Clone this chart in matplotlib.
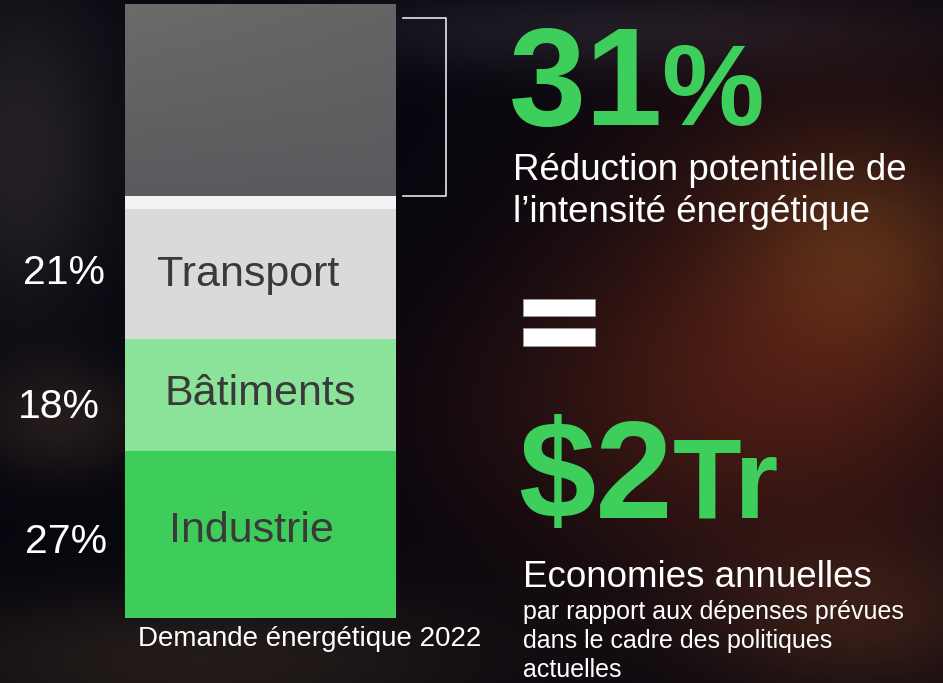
import matplotlib
matplotlib.use('Agg')
import matplotlib.pyplot as plt
from matplotlib.patches import Rectangle
import numpy as np

plt.rcParams['font.family'] = ['Liberation Sans', 'DejaVu Sans']

# stacked bar data (share of 2022 energy demand, %)
sectors = ['Industrie', 'Bâtiments', 'Transport', '', '']
shares = [27, 18, 21, 2, 31]
pct_labels = ['27%', '18%', '21%']
colors = ['#3ecd5a', '#8be39a', '#dadada', '#f2f2f2', '#5f5f62']

W, H = 943, 683
fig = plt.figure(figsize=(W / 100, H / 100), dpi=100)

# blurred dark background
yy, xx = np.mgrid[0:H, 0:W]
img = np.zeros((H, W, 3))
img[:] = np.array([6, 6, 14]) / 255.0
def blob(cx, cy, sx, sy, col):
    g = np.exp(-(((xx - cx) / sx) ** 2 + ((yy - cy) / sy) ** 2) / 2)
    return g[..., None] * (np.array(col) / 255.0)
img += blob(840, 300, 170, 160, (58, 18, 5))
img += blob(860, 250, 80, 70, (24, 22, 4))
img += blob(680, 420, 180, 110, (30, 10, 3))
img += blob(20, 150, 70, 120, (30, 26, 24))
img += blob(60, 420, 60, 40, (28, 20, 12))
img += blob(200, 660, 200, 50, (30, 22, 12))
img += blob(600, 30, 220, 30, (22, 20, 22))
img += blob(860, 620, 120, 60, (40, 20, 8))
img = np.clip(img, 0, 1)

bg = fig.add_axes([0, 0, 1, 1])
bg.imshow(img, extent=[0, W, H, 0], aspect='auto')
bg.set_xlim(0, W)
bg.set_ylim(H, 0)
bg.axis('off')

# the bar
ax = fig.add_axes([125 / W, 65 / H, 271 / W, 614 / H])
ax.patch.set_alpha(0)
bottoms = np.concatenate([[0], np.cumsum(shares)[:-1]])
bars = ax.bar(0, shares, bottom=bottoms, width=1, color=colors, linewidth=0)
top = sum(shares)
lo = bottoms[4]

# soft shading on the grey segment (lighter towards the top left)
v = np.linspace(0, 1, 60)[:, None]
u = np.linspace(0, 1, 60)[None, :]
shade = 0.6 * v + 0.4 * (1 - u) * v
c_lo = np.array([90, 90, 94]) / 255.0
c_hi = np.array([108, 107, 106]) / 255.0
grad = c_lo + shade[..., None] * (c_hi - c_lo)
ax.imshow(grad, extent=[-0.5, 0.5, lo, top], aspect='auto',
          origin='lower', clip_path=bars[4], zorder=3)
ax.set_xlim(-0.5, 0.5)
ax.set_ylim(0, top)
ax.axis('off')

name_dx = [-0.035, 0.0, -0.045]
name_dy = [1.2, 0.8, 0.6]
for i in range(3):
    mid = bottoms[i] + shares[i] / 2 + name_dy[i]
    ax.text(name_dx[i], mid, sectors[i], ha='center', va='center_baseline',
            fontsize=31, color='#3a3a3a')
pct_x = [-0.565, -0.594, -0.574]
pct_dy = [-0.6, -1.4, 0.8]
for i in range(3):
    mid = bottoms[i] + shares[i] / 2 + pct_dy[i]
    ax.text(pct_x[i], mid, pct_labels[i], ha='right', va='center_baseline',
            fontsize=29.5, color='white', clip_on=False)

# bracket around the reduction segment
ax.plot([0.526, 0.685, 0.685, 0.526], [lo, lo, top - 2.3, top - 2.3],
        color='#e6e6e6', lw=1.2, clip_on=False)

ax.text((310 - 260.5) / 271, -4.5, 'Demande énergétique 2022', ha='center',
        va='baseline', fontsize=20, color='white', clip_on=False)

green = '#3dce5b'
bg.text(509, 125, '31', fontsize=100, fontweight='bold', color=green, va='baseline')
bg.text(661, 125, '%', fontsize=83, fontweight='bold', color=green, va='baseline')
bg.text(513, 180, 'Réduction potentielle de', fontsize=26.5, color='white', va='baseline')
bg.text(513, 222, 'l’intensité énergétique', fontsize=26.5, color='white', va='baseline')

# equals sign
bg.add_patch(Rectangle((523, 299), 72, 17, facecolor='white', edgecolor='#9a9a9a', lw=0.6))
bg.add_patch(Rectangle((523, 328), 72, 18, facecolor='white', edgecolor='#9a9a9a', lw=0.6))

bg.text(518, 518, '$2', fontsize=100, fontweight='bold', color=green, va='baseline')
bg.text(673, 518, 'Tr', fontsize=81, fontweight='bold', color=green, va='baseline')
bg.text(523, 587, 'Economies annuelles', fontsize=26.5, color='white', va='baseline')
bg.text(523, 619, 'par rapport aux dépenses prévues', fontsize=18, color='white', va='baseline')
bg.text(523, 648, 'dans le cadre des politiques', fontsize=18, color='white', va='baseline')
bg.text(523, 677, 'actuelles', fontsize=18, color='white', va='baseline')

fig.savefig('out.png', dpi=100)
